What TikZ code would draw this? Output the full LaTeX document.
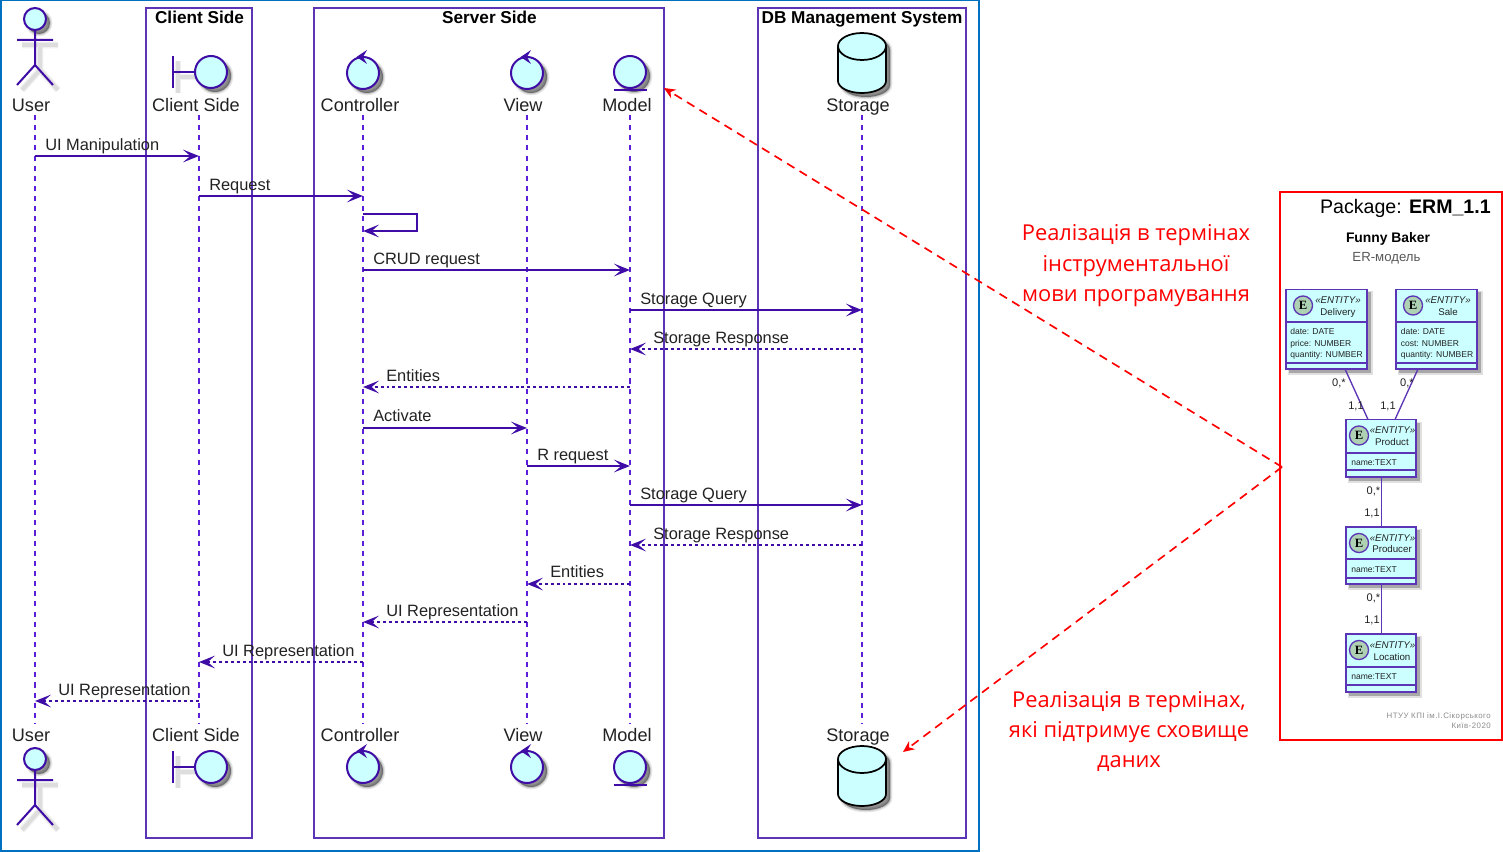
\documentclass[tikz,border=0pt]{standalone}
\usepackage{fontspec}
\setmainfont{Liberation Sans}
\newfontfamily\redfont{Open Sans}
\newfontfamily\serifb{Liberation Serif}
\usetikzlibrary{arrows.meta,calc}
\definecolor{puml}{HTML}{3F0DA6}
\definecolor{boxline}{HTML}{5B35B5}
\definecolor{lifec}{HTML}{5A1FD6}
\definecolor{cyanfill}{HTML}{CCFFFF}
\definecolor{framblue}{HTML}{0070C0}
\definecolor{txt}{HTML}{222222}
\definecolor{spot}{HTML}{ADD1B2}
\tikzset{
 x=0.75pt,y=-0.75pt,
 tip/.style={-{Stealth[length=12pt,width=9.5pt,inset=5.5pt]}},
 msgline/.style={draw=puml,line width=1.2pt,tip},
 retline/.style={draw=puml,line width=1.2pt,tip,dash pattern=on 2.2pt off 2.2pt},
 lifeline/.style={draw=lifec,line width=1.25pt,dash pattern=on 3.8pt off 3.8pt},
 groupbox/.style={draw=boxline,line width=1.2pt},
 glyph/.style={draw=puml,line width=1.5pt,fill=cyanfill},
 glyphline/.style={draw=puml,line width=1.5pt},
 actorlbl/.style={font=\fontsize{13.6}{15}\selectfont,text=txt,inner sep=0pt,text height=11pt,text depth=1pt},
 msglbl/.style={font=\fontsize{12.3}{14}\selectfont,text=txt,inner sep=0pt,anchor=west,text height=9.8pt,text depth=1.2pt},
 grouplbl/.style={font=\fontsize{12.9}{14}\selectfont\bfseries,text=black,inner sep=0pt,text height=9.8pt,text depth=1pt},
 redlbl/.style={font=\redfont\fontsize{16.4}{18}\selectfont,text=red,inner sep=0pt,text height=13pt,text depth=1pt},
 redarrow/.style={draw=red,line width=1.25pt,dash pattern=on 6.5pt off 4.5pt,-{Stealth[length=8.5pt,width=7.5pt]}},
 entbox/.style={draw=boxline,line width=1pt,fill=cyanfill,inner sep=0pt},
 entline/.style={draw=boxline,line width=1pt},
 attr/.style={font=\fontsize{6.4}{8}\selectfont,text=txt,inner sep=0pt,anchor=west,text height=6pt,text depth=.8pt},
 entstereo/.style={font=\fontsize{7.3}{8}\selectfont\itshape,text=txt,inner sep=0pt,text height=6pt,text depth=.8pt},
 entname/.style={font=\fontsize{7.3}{8}\selectfont,text=txt,inner sep=0pt,text height=6pt,text depth=.8pt},
 mult/.style={font=\fontsize{8.3}{9}\selectfont,text=txt,inner sep=0pt,text height=6pt,text depth=.8pt},
 erline/.style={draw=boxline,line width=1pt},
 spotc/.style={draw=boxline,line width=1pt,fill=spot},
 foot/.style={text=black!45,inner sep=0pt,anchor=east,text height=4.6pt,text depth=1pt}
}
% soft shadows
\newcommand{\fillshad}[1]{\begin{scope}[shift={(4,4)}]
 \path[draw=black,fill=black,opacity=.10,line width=3.5pt] #1;
 \path[draw=black,fill=black,opacity=.15,line width=1.5pt] #1;
 \path[fill=black,opacity=.25] #1;
 \end{scope}}
\newcommand{\lineshad}[1]{\begin{scope}[shift={(5,5)}]
 \path[draw=black,opacity=.06,line width=5pt] #1;
 \path[draw=black,opacity=.08,line width=3pt] #1;
 \end{scope}}
% glyphs
\newcommand{\actorglyph}[2]{% x, y of head centre
 \lineshad{(#1,#2+21) -- ++(0,25) (#1-18,#2+21) -- ++(36,0) (#1-18,#2+66) -- (#1,#2+46) -- (#1+18,#2+66)}
 \fillshad{(#1,#2) circle[radius=11]}
 \draw[glyph] (#1,#2) circle[radius=11];
 \draw[glyphline] (#1,#2+11) -- (#1,#2+46) (#1-18,#2+21) -- (#1+18,#2+21) (#1-18,#2+66) -- (#1,#2+46) -- (#1+18,#2+66);}
\newcommand{\boundaryglyph}[2]{% circle centre
 \lineshad{(#1-38,#2-16) -- ++(0,32) (#1-38,#2) -- (#1-16,#2)}
 \fillshad{(#1,#2) circle[radius=16]}
 \draw[glyph] (#1,#2) circle[radius=16];
 \draw[glyphline] (#1-38,#2-16) -- ++(0,32) (#1-38,#2) -- (#1-16,#2);}
\newcommand{\controlglyph}[2]{%
 \fillshad{(#1,#2) circle[radius=16]}
 \draw[glyph] (#1,#2) circle[radius=16];
 \fill[puml] (#1+4,#2-23) -- (#1-6.5,#2-16) -- (#1+4,#2-9) -- (#1,#2-16) -- cycle;}
\newcommand{\entityglyph}[2]{%
 \fillshad{(#1,#2) circle[radius=16]}
 \draw[glyph] (#1,#2) circle[radius=16];
 \draw[glyphline] (#1-16,#2+18) -- ++(33,0);}
\newcommand{\dbglyph}[2]{% x centre, y top
 \fillshad{(#1-24,#2+13) -- (#1-24,#2+48) arc[start angle=180,end angle=360,x radius=24,y radius=-12] -- (#1+24,#2+13) arc[start angle=0,end angle=180,x radius=24,y radius=-13] -- cycle}
 \draw[black,line width=1.3pt,fill=cyanfill] (#1-24,#2+13) -- (#1-24,#2+48) arc[start angle=180,end angle=360,x radius=24,y radius=-12] -- (#1+24,#2+13) arc[start angle=0,end angle=180,x radius=24,y radius=-13] -- cycle;
 \draw[black,line width=1.3pt] (#1-24,#2+13) arc[start angle=180,end angle=360,x radius=24,y radius=-14];}
% ER entity: name, left, right, top, sep1, sep2, bottom, spot x, text centre
\newcommand{\entity}[9]{%
 \path[fill=black,opacity=.12] (#2+2,#4+2) rectangle (#3+6,#7+6);
 \path[fill=black,opacity=.25] (#2+3,#4+3) rectangle (#3+4,#7+4);
 \node[entbox,minimum width=#3*0.75pt-#2*0.75pt,minimum height=#7*0.75pt-#4*0.75pt] (#1) at ({(#2+#3)/2},{(#4+#7)/2}) {};
 \draw[entline] (#2,#5) -- (#3,#5) (#2,#6) -- (#3,#6);
 \node[spotc,circle,inner sep=0pt,minimum size=14.3pt,font=\serifb\bfseries\fontsize{9.5}{9}\selectfont] (#1E) at (#8,#4+16) {E};
 \node[entstereo] (#1S) at (#9,#4+11) {«ENTITY»};}
\begin{document}
\begin{tikzpicture}
\useasboundingbox (0,0) rectangle (1503,852);
\fill[white] (0,0) rectangle (1503,852);
% frames
\node[draw=framblue,line width=1.5pt,inner sep=0pt,minimum width=733.5pt,minimum height=637.5pt] (frame) at (489.5,425.5) {};
\node[draw=red,line width=1.5pt,inner sep=0pt,minimum width=166.5pt,minimum height=411pt] (pkg) at (1391,466) {};
% group boxes
\node[groupbox,inner sep=0pt,minimum width=79.5pt,minimum height=622.5pt] (gc) at (199,423) {};
\node[groupbox,inner sep=0pt,minimum width=262.5pt,minimum height=622.5pt] (gs) at (489,423) {};
\node[groupbox,inner sep=0pt,minimum width=156pt,minimum height=622.5pt] (gd) at (862,423) {};
\node[grouplbl] (gct) at (199.5,17.5) {Client Side};
\node[grouplbl] (gst) at (489.5,17.5) {Server Side};
\node[grouplbl] (gdt) at (862,17.5) {DB Management System};
% lifelines
\foreach \n/\x in {U/35,C/199,K/363,V/527,M/630,S/862}{
 \coordinate (l\n) at (\x,115);
 \coordinate (b\n) at (\x,724);
 \draw[lifeline] (l\n) -- (b\n);
}
% messages
\foreach \n/\a/\b/\y/\s in {
 1/U/C/156/msgline,2/C/K/196/msgline,3/K/M/270/msgline,4/M/S/310/msgline,5/S/M/349/retline,
 6/M/K/387/retline,7/K/V/428/msgline,8/V/M/466/msgline,9/M/S/505/msgline,10/S/M/545/retline,
 11/M/V/584/retline,12/V/K/622/retline,13/K/C/662/retline,14/C/U/701/retline}{
 \coordinate (y\n) at (0,\y);
 \draw[\s] (l\a |- y\n) -- (l\b |- y\n);
}
\coordinate (s1) at (363,214); \coordinate (s2) at (417,214);
\coordinate (s3) at (417,231); \coordinate (s4) at (363,231);
\draw[msgline] (s1) -- (s2) -- (s3) -- (s4);
% message labels
\node[msglbl] (m1) at (45,145) {UI Manipulation};
\node[msglbl] (m2) at (209,185) {Request};
\node[msglbl] (m3) at (373,258.5) {CRUD request};
\node[msglbl] (m4) at (640,298.5) {Storage Query};
\node[msglbl] (m5) at (653,337.5) {Storage Response};
\node[msglbl] (m6) at (386,376) {Entities};
\node[msglbl] (m7) at (373,416) {Activate};
\node[msglbl] (m8) at (537,455) {R request};
\node[msglbl] (m9) at (640,493.5) {Storage Query};
\node[msglbl] (m10) at (653,533.5) {Storage Response};
\node[msglbl] (m11) at (550,572) {Entities};
\node[msglbl] (m12) at (386,611) {UI Representation};
\node[msglbl] (m13) at (222,651) {UI Representation};
\node[msglbl] (m14) at (58,690) {UI Representation};
% participants top
\actorglyph{35}{19}
\boundaryglyph{211}{72}
\controlglyph{363}{73}
\controlglyph{527}{73}
\entityglyph{630}{72}
\dbglyph{862}{33}
% participants bottom
\actorglyph{35}{759}
\boundaryglyph{211}{767}
\controlglyph{363}{767}
\controlglyph{527}{767}
\entityglyph{630}{767}
\dbglyph{862}{746}
\foreach \n/\x/\t in {U/31/User,C/196/Client Side,K/360/Controller,V/523/View,M/627/Model,S/858/Storage}{
 \node[actorlbl] (t\n) at (\x,105) {\t};
 \node[actorlbl] (e\n) at (\x,735) {\t};
}
% ER
\node[inner sep=0pt,anchor=east,font=\fontsize{14.7}{18}\selectfont,text=black,text height=11.5pt,text depth=1pt] (ptitle) at (1491,207) {Package: \textbf{ERM\_1.1}};
\node[inner sep=0pt,font=\fontsize{10.4}{12}\selectfont\bfseries,text=black,text height=8.5pt,text depth=1pt] (ftitle) at (1388,238) {Funny Baker};
\node[inner sep=0pt,font=\fontsize{9.9}{12}\selectfont,text=black!65,text height=7.8pt,text depth=1pt] (fsub) at (1386.5,256.5) {ER-модель};
\entity{del}{1286}{1367}{289.5}{322}{363}{369}{1303}{1338}
\node[entname] (delN) at (1338,312.5) {Delivery};
\node[attr] (delA) at (1290,331.5) {date: DATE};
\node[attr] (delB) at (1290,343) {price: NUMBER};
\node[attr] (delC) at (1290,354) {quantity: NUMBER};
\entity{sal}{1396}{1477}{289.5}{322}{363}{369}{1413}{1448}
\node[entname] (salN) at (1448,312.5) {Sale};
\node[attr] (salA) at (1400.5,331.5) {date: DATE};
\node[attr] (salB) at (1400.5,343) {cost: NUMBER};
\node[attr] (salC) at (1400.5,354) {quantity: NUMBER};
\entity{pro}{1346}{1416}{419.5}{453}{470}{477}{1359}{1392.5}
\node[entname] (proN) at (1392,442.5) {Product};
\node[attr] (proA) at (1351,462) {name:TEXT};
\entity{prd}{1346}{1416}{527}{559}{578}{584}{1359}{1392.5}
\node[entname] (prdN) at (1392,549.5) {Producer};
\node[attr] (prdA) at (1351,569) {name:TEXT};
\entity{loc}{1346}{1416}{634}{667}{685}{692}{1359}{1392.5}
\node[entname] (locN) at (1392,657) {Location};
\node[attr] (locA) at (1351,676.5) {name:TEXT};
\coordinate (c1) at (1345,369); \coordinate (c2) at (1368,419.5);
\coordinate (c3) at (1418,369); \coordinate (c4) at (1395,419.5);
\draw[erline] (c1) -- (c2);
\draw[erline] (c3) -- (c4);
\coordinate (c5) at (1381.5,477); \coordinate (c6) at (1381.5,527);
\coordinate (c7) at (1381.5,584); \coordinate (c8) at (1381.5,634);
\draw[erline] (c5) -- (c6);
\draw[erline] (c7) -- (c8);
\foreach \n/\x/\y/\t in {a/1339/383.5/{0,*},b/1356/406/{1,1},c/1388/406/{1,1},d/1407/383.5/{0,*},e/1373.5/491/{0,*},f/1372/513.5/{1,1},g/1373.5/598/{0,*},h/1372/620.5/{1,1}}{
 \node[mult] (mu\n) at (\x,\y) {\t};
}
\node[foot,font=\fontsize{5.9}{7}\selectfont\addfontfeatures{LetterSpace=6}] (f1) at (1491,716) {НТУУ КПІ ім.І.Сікорського};
\node[foot,font=\fontsize{5.9}{7}\selectfont\addfontfeatures{LetterSpace=6}] (f2) at (1491,726) {Київ-2020};
% red annotations
\coordinate (rr) at (1282,467);
\coordinate (rs) at (664,88);
\coordinate (rd) at (903,752);
\draw[redarrow] (rr) -- (rs);
\draw[redarrow] (rr) -- (rd);
\node[redlbl] (r1) at (1136,233) {Реалізація в термінах};
\node[redlbl] (r2) at (1136,264) {інструментальної};
\node[redlbl] (r3) at (1136,293.5) {мови програмування};
\node[redlbl] (r4) at (1129,699) {Реалізація в термінах,};
\node[redlbl] (r5) at (1129,729.5) {які підтримує сховище};
\node[redlbl] (r6) at (1129,759.5) {даних};
\end{tikzpicture}
\end{document}
